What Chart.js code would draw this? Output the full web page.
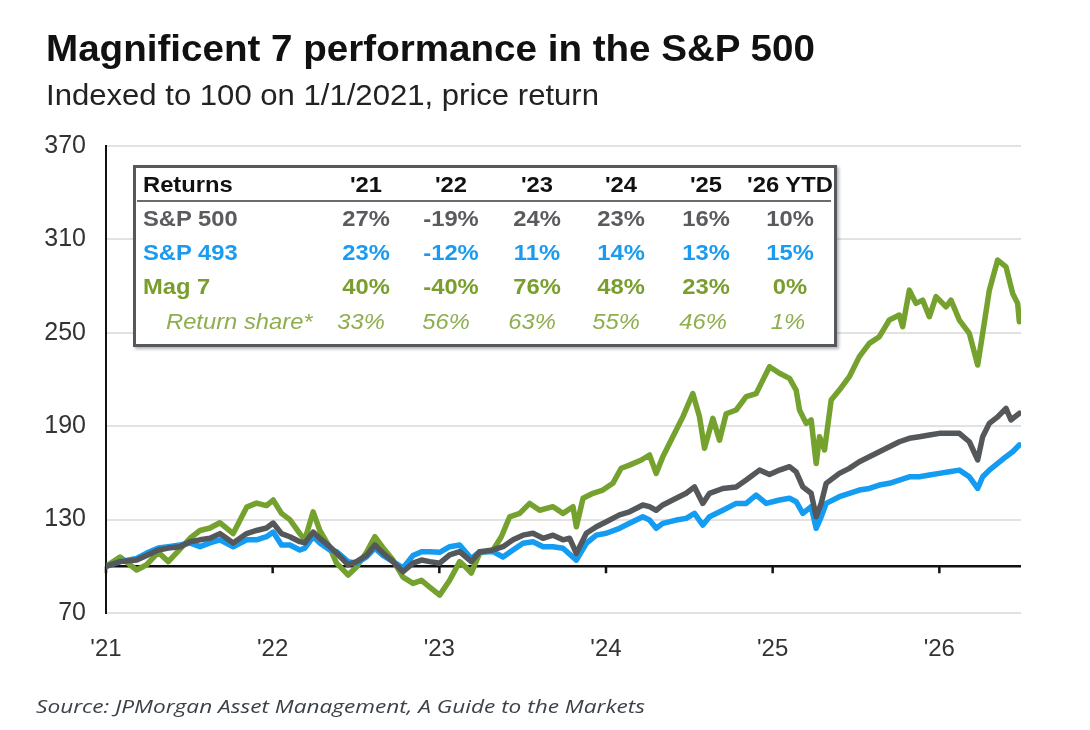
<!DOCTYPE html>
<html>
<head>
<meta charset="utf-8">
<script src="https://cdn.jsdelivr.net/npm/chart.js@4.4.1/dist/chart.umd.min.js"></script>
<style>
  body { margin: 0; background: #fff; }
  #wrap { position: relative; width: 1090px; height: 730px; overflow: hidden; font-family: 'Liberation Sans', Arial, sans-serif; }
  #c { position: absolute; left: 0; top: 0; }
  .txt { position: absolute; white-space: nowrap; transform-origin: left center; }
  #title { left: 46px; top: 28px; font-size: 36px; font-weight: bold; color: #111; }
  #subtitle { left: 46px; top: 78px; font-size: 30px; color: #222; }
  #source { left: 36px; top: 693px; font-size: 19px; font-style: italic; color: #3c4148; font-family: 'Open Sans', sans-serif; }
  #box { position: absolute; left: 133px; top: 165px; width: 698px; height: 176px; background: #fff;
         border: 3px solid #55595d; box-shadow: 2px 2px 3px rgba(0,0,0,0.3); }
  #sep { position: absolute; left: 137px; top: 200px; width: 694px; height: 2px; background: #6a6d70; }
  .cell { position: absolute; white-space: nowrap; font-size: 22px; line-height: 22px; }
</style>
</head>
<body>
<div id="wrap">
  <canvas id="c" width="1090" height="730"></canvas>
  <div class="txt" id="title">Magnificent 7 performance in the S&amp;P 500</div>
  <div class="txt" id="subtitle">Indexed to 100 on 1/1/2021, price return</div>
  <div id="box"></div>
  <div id="sep"></div>
  <div class="txt" id="source">Source: JPMorgan Asset Management, A Guide to the Markets</div>
</div>
<script>
// x values are fractional years, y values are index levels (100 = 1/1/2021)
const tickYears = [2021, 2022, 2023, 2024, 2025, 2026];
const tickLabels = ["'21", "'22", "'23", "'24", "'25", "'26"];
const yTicks = [70, 130, 190, 250, 310, 370];

const mag7Dates = [2021.000, 2021.084, 2021.184, 2021.244, 2021.314, 2021.374, 2021.444, 2021.504, 2021.564, 2021.624,
  2021.683, 2021.763, 2021.844, 2021.903, 2021.963, 2022.003, 2022.053, 2022.103, 2022.163, 2022.193,
  2022.243, 2022.283, 2022.343, 2022.383, 2022.453, 2022.503, 2022.563, 2022.613, 2022.662, 2022.722,
  2022.782, 2022.842, 2022.893, 2022.942, 2023.002, 2023.062, 2023.122, 2023.162, 2023.192, 2023.242,
  2023.322, 2023.372, 2023.422, 2023.482, 2023.542, 2023.602, 2023.682, 2023.742, 2023.802, 2023.822,
  2023.862, 2023.922, 2023.981, 2024.041, 2024.091, 2024.141, 2024.212, 2024.261, 2024.301, 2024.341,
  2024.401, 2024.461, 2024.521, 2024.561, 2024.591, 2024.641, 2024.681, 2024.721, 2024.781, 2024.841,
  2024.901, 2024.941, 2024.981, 2025.041, 2025.101, 2025.141, 2025.161, 2025.201, 2025.231, 2025.261,
  2025.281, 2025.311, 2025.351, 2025.400, 2025.460, 2025.520, 2025.580, 2025.640, 2025.700, 2025.760,
  2025.780, 2025.820, 2025.860, 2025.900, 2025.940, 2025.980, 2026.040, 2026.070, 2026.120, 2026.180,
  2026.230, 2026.260, 2026.300, 2026.350, 2026.400, 2026.440, 2026.470, 2026.480];
const mag7 = [100, 106, 97.6, 101, 109, 103, 111, 118, 123, 124.6,
  128, 121, 138, 140.6, 139, 142.6, 134, 130, 121, 117,
  135, 123, 112, 102, 94.4, 99.5, 109, 119, 112, 104,
  93, 89, 91, 86.7, 81.5, 91, 103, 99, 95.7, 108.5,
  110.5, 119, 131.8, 134, 140.4, 136, 138.3, 134, 138.3, 125.4,
  143.7, 146.9, 149, 153.3, 163, 165, 168.3, 171.5, 159.7, 170.4,
  183.2, 196, 211, 196, 175.8, 195, 181, 198, 200.4, 209,
  211, 219.6, 228.2, 224, 220.7, 213.2, 200.4, 191.8, 194, 166,
  183.2, 174.7, 206.8, 213.2, 221.8, 234.7, 243.2, 247.5, 258.2, 261.4,
  253.9, 277.4, 268.9, 271, 260.3, 273.2, 266.7, 271, 258.2, 249.6,
  229.3, 249.6, 277.4, 296.7, 292.4, 275.3, 268.9, 257.1];

const sp500Dates = [2021.000, 2021.084, 2021.184, 2021.244, 2021.314, 2021.374, 2021.444, 2021.504, 2021.564, 2021.624,
  2021.683, 2021.763, 2021.844, 2021.903, 2021.963, 2022.003, 2022.053, 2022.103, 2022.163, 2022.193,
  2022.243, 2022.283, 2022.343, 2022.383, 2022.453, 2022.503, 2022.563, 2022.613, 2022.662, 2022.722,
  2022.782, 2022.842, 2022.893, 2022.942, 2023.002, 2023.062, 2023.122, 2023.192, 2023.242, 2023.322,
  2023.382, 2023.442, 2023.502, 2023.562, 2023.622, 2023.682, 2023.742, 2023.782, 2023.822, 2023.882,
  2023.942, 2024.002, 2024.081, 2024.141, 2024.221, 2024.261, 2024.301, 2024.341, 2024.421, 2024.481,
  2024.531, 2024.581, 2024.621, 2024.701, 2024.781, 2024.841, 2024.921, 2024.981, 2025.041, 2025.101,
  2025.141, 2025.181, 2025.231, 2025.261, 2025.291, 2025.321, 2025.400, 2025.460, 2025.520, 2025.580,
  2025.640, 2025.700, 2025.760, 2025.820, 2025.880, 2025.940, 2026.000, 2026.060, 2026.120, 2026.180,
  2026.230, 2026.260, 2026.300, 2026.350, 2026.400, 2026.430, 2026.480];
const sp500 = [100, 103, 104, 107, 110.5, 111.7, 112.6, 115.8, 117, 118,
  121, 115, 121, 123, 124.6, 127.8, 121, 119, 115.8, 115,
  122, 118, 112.6, 108.5, 101, 103, 107, 113.7, 108.5, 103,
  96.5, 102, 104, 103, 102, 107.3, 109.4, 103, 109.4, 110.5,
  112.6, 117, 120, 121.2, 118, 120, 117, 118, 108.3, 121.2,
  125.4, 128.6, 133, 135, 139.4, 138.3, 136, 139.4, 143.7, 146.9,
  151, 140.4, 146.9, 150, 151, 155.4, 161.8, 159, 161.8, 164,
  160.7, 151, 146.9, 131.8, 140.4, 153.3, 159.7, 162.9, 167.2, 170.4,
  173.6, 176.8, 180, 182.2, 183.2, 184.3, 185.4, 185.4, 185.4, 180,
  168.3, 183.2, 191.8, 196, 201.5, 194, 198.3];

const sp493Dates = [2021.000, 2021.084, 2021.184, 2021.244, 2021.314, 2021.374, 2021.444, 2021.504, 2021.564, 2021.624,
  2021.683, 2021.763, 2021.844, 2021.903, 2021.963, 2022.003, 2022.053, 2022.103, 2022.163, 2022.193,
  2022.243, 2022.283, 2022.343, 2022.383, 2022.453, 2022.503, 2022.563, 2022.613, 2022.662, 2022.722,
  2022.782, 2022.842, 2022.893, 2022.942, 2023.002, 2023.062, 2023.122, 2023.192, 2023.242, 2023.322,
  2023.382, 2023.442, 2023.502, 2023.562, 2023.622, 2023.682, 2023.742, 2023.822, 2023.882, 2023.942,
  2024.002, 2024.081, 2024.141, 2024.221, 2024.261, 2024.301, 2024.341, 2024.421, 2024.481, 2024.531,
  2024.581, 2024.621, 2024.701, 2024.781, 2024.841, 2024.901, 2024.961, 2025.041, 2025.101, 2025.141,
  2025.181, 2025.231, 2025.261, 2025.291, 2025.321, 2025.400, 2025.460, 2025.520, 2025.580, 2025.640,
  2025.700, 2025.760, 2025.820, 2025.880, 2025.940, 2026.000, 2026.060, 2026.120, 2026.180, 2026.230,
  2026.260, 2026.300, 2026.350, 2026.400, 2026.440, 2026.480];
const sp493 = [100, 103, 105, 108.5, 111.7, 112.6, 113.7, 115, 112.6, 115,
  117, 112.6, 117, 117, 119, 122, 113.7, 113.7, 110.5, 111.7,
  119, 115, 110.5, 109.4, 103, 102, 106, 111.7, 107, 103,
  99, 107, 109.4, 109.4, 109, 112.6, 113.7, 105, 109.4, 109.4,
  106, 110.5, 114.8, 115.8, 112.6, 112.6, 111.6, 104, 114.8, 120,
  121.2, 124.4, 127.6, 131.8, 129.7, 124.4, 127.6, 129.7, 130.8, 134,
  126.5, 131.8, 136, 140.4, 140.4, 145.8, 140.4, 142.6, 143.7, 141.5,
  134, 138.3, 124.4, 131.8, 140.4, 144.7, 146.9, 149, 150, 152.2,
  153.3, 155.4, 157.5, 157.5, 158.6, 159.7, 160.7, 161.8, 157.5, 150,
  157.5, 161.8, 166.1, 170.4, 173.6, 177.9];

const BASE = 100;

// return table
const tableHead = ['Returns', "'21", "'22", "'23", "'24", "'25", "'26 YTD"];
const rowNames = ['S&P 500', 'S&P 493', 'Mag 7'];
const ret500 = ['27%', '-19%', '24%', '23%', '16%', '10%'];
const ret493 = ['23%', '-12%', '11%', '14%', '13%', '15%'];
const retMag7 = ['40%', '-40%', '76%', '48%', '23%', '0%'];
const shareLabel = 'Return share*';
const retShare = ['33%', '56%', '63%', '55%', '46%', '1%'];

const GRAY = '#54585b', BLUE = '#139cf2', GREEN = '#75a12f';

const wrap = document.getElementById('wrap');
function cell(text, x, y, align, style) {
  const d = document.createElement('div');
  d.className = 'cell';
  d.textContent = text;
  Object.assign(d.style, style || {});
  d.style.top = (y - 11) + 'px';
  d.style.left = x + 'px';
  if (align === 'center') {
    d.style.transform = 'translateX(-50%) scaleX(1.08)';
  } else {
    d.style.transformOrigin = 'left center';
    d.style.transform = 'scaleX(1.08)';
  }
  wrap.appendChild(d);
}
const colX = [366, 451, 537, 621, 706, 790];
const shareX = [361, 446, 532, 616, 703, 788];
cell(tableHead[0], 143, 185, 'left', {fontWeight: 'bold', color: '#111'});
tableHead.slice(1).forEach((t, i) => cell(t, colX[i], 185, 'center', {fontWeight: 'bold', color: '#111'}));
const rows = [[ret500, '#595b5e', 219], [ret493, '#1b9bf0', 253], [retMag7, '#7a9e2e', 287]];
rows.forEach(([vals, col, y], r) => {
  cell(rowNames[r], 143, y, 'left', {fontWeight: 'bold', color: col});
  vals.forEach((v, i) => cell(v, colX[i], y, 'center', {fontWeight: 'bold', color: col}));
});
cell(shareLabel, 166, 322, 'left', {fontStyle: 'italic', color: '#8fae4f'});
retShare.forEach((v, i) => cell(v, shareX[i], 322, 'center', {fontStyle: 'italic', color: '#8fae4f'}));

// stretch headline texts to their widths in the picture
function fit(id, w) {
  const el = document.getElementById(id);
  el.style.transform = 'scaleX(' + (w / el.getBoundingClientRect().width) + ')';
}
fit('title', 769);
fit('subtitle', 553);
fit('source', 609);

const pts = (xs, ys) => xs.map((x, i) => ({x: x, y: ys[i]}));

const baseline = {
  id: 'baseline',
  beforeDatasetsDraw(chart) {
    const {ctx, chartArea, scales} = chart;
    const yb = scales.y.getPixelForValue(BASE);
    ctx.save();
    ctx.strokeStyle = '#111';
    ctx.lineWidth = 2.5;
    ctx.beginPath();
    ctx.moveTo(chartArea.left, yb);
    ctx.lineTo(chartArea.right, yb);
    tickYears.forEach(v => {
      const px = scales.x.getPixelForValue(v);
      ctx.moveTo(px, yb);
      ctx.lineTo(px, yb + 7);
    });
    ctx.stroke();
    ctx.restore();
  }
};

Chart.defaults.font.family = "'Liberation Sans', Arial, sans-serif";

new Chart(document.getElementById('c').getContext('2d'), {
  type: 'line',
  data: {
    datasets: [
      {label: 'S&P 500', data: pts(sp500Dates, sp500), borderColor: GRAY, order: 0},
      {label: 'S&P 493', data: pts(sp493Dates, sp493), borderColor: BLUE, order: 1},
      {label: 'Mag 7', data: pts(mag7Dates, mag7), borderColor: GREEN, order: 2}
    ]
  },
  options: {
    responsive: false,
    animation: false,
    layout: {padding: {top: 146, right: 69, left: 0, bottom: 0}},
    plugins: {legend: {display: false}, tooltip: {enabled: false}},
    elements: {
      point: {radius: 0},
      line: {borderWidth: 5.5, tension: 0, borderJoinStyle: 'round', borderCapStyle: 'round', fill: false}
    },
    scales: {
      x: {
        type: 'linear', min: 2021, max: 2026.49,
        afterBuildTicks: s => { s.ticks = tickYears.map(v => ({value: v})); },
        afterFit: s => { s.height = 117; },
        grid: {display: false, drawTicks: false},
        border: {display: false},
        ticks: {
          callback: v => tickLabels[tickYears.indexOf(v)],
          font: {size: 24}, color: '#333', padding: 22, maxRotation: 0, autoSkip: false
        }
      },
      y: {
        min: 70, max: 370,
        afterBuildTicks: s => { s.ticks = yTicks.map(v => ({value: v})); },
        afterFit: s => { s.width = 106; },
        grid: {color: '#e2e2e2', lineWidth: 2, drawTicks: false},
        border: {display: true, color: '#111', width: 2},
        ticks: {font: {size: 25}, color: '#333', padding: 20}
      }
    }
  },
  plugins: [baseline]
});
</script>
</body>
</html>
